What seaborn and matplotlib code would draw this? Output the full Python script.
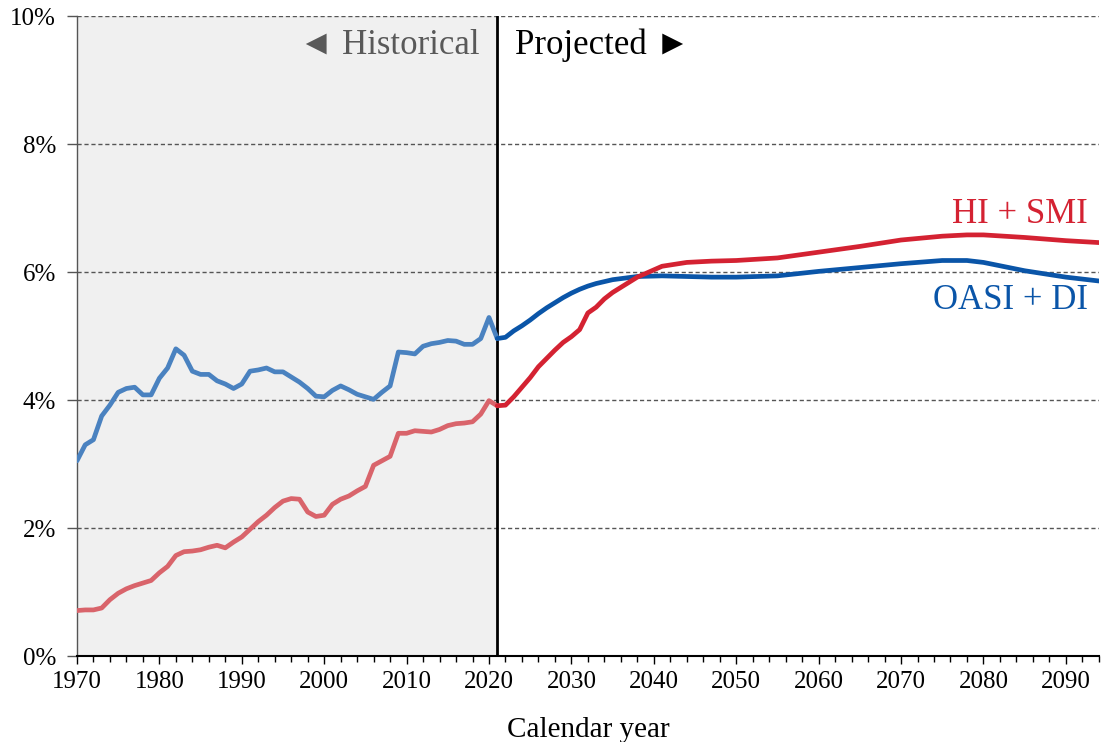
import numpy as np
import pandas as pd
import matplotlib
matplotlib.use('Agg')
import matplotlib.pyplot as plt
from matplotlib.ticker import MultipleLocator, FuncFormatter
import seaborn as sns

# Historical cost as percent of GDP (1970-2021)
hist_years = list(range(1970, 2022))
hist_oasdi = [3.05, 3.30, 3.38, 3.75, 3.92, 4.12, 4.18, 4.20, 4.08, 4.08,
              4.34, 4.50, 4.80, 4.70, 4.45, 4.40, 4.40, 4.30, 4.25, 4.18,
              4.25, 4.45, 4.47, 4.50, 4.44, 4.44, 4.36, 4.28, 4.18, 4.06,
              4.05, 4.15, 4.22, 4.16, 4.09, 4.05, 4.01, 4.12, 4.22, 4.75,
              4.74, 4.72, 4.84, 4.88, 4.90, 4.93, 4.92, 4.87, 4.87, 4.96,
              5.29, 4.96]
hist_hismi = [0.71, 0.72, 0.72, 0.75, 0.88, 0.98, 1.05, 1.10, 1.14, 1.18,
              1.30, 1.40, 1.57, 1.63, 1.64, 1.66, 1.70, 1.73, 1.69, 1.78,
              1.86, 1.98, 2.10, 2.20, 2.32, 2.42, 2.46, 2.45, 2.25, 2.18,
              2.20, 2.37, 2.45, 2.50, 2.58, 2.65, 2.98, 3.05, 3.12, 3.48,
              3.48, 3.52, 3.51, 3.50, 3.54, 3.60, 3.63, 3.64, 3.66, 3.78,
              3.99, 3.91]

# Projected cost as percent of GDP
proj_years = [2021, 2022, 2023, 2024, 2025, 2026, 2027, 2028, 2029, 2030,
              2031, 2032, 2033, 2034, 2035, 2038, 2041, 2044, 2047, 2050,
              2055, 2060, 2065, 2070, 2075, 2078, 2080, 2085, 2090, 2094]
proj_oasdi = [4.96, 4.98, 5.08, 5.16, 5.25, 5.35, 5.44, 5.52, 5.60, 5.67,
              5.73, 5.78, 5.82, 5.85, 5.88, 5.93, 5.94, 5.93, 5.92, 5.92,
              5.94, 6.01, 6.07, 6.13, 6.18, 6.18, 6.15, 6.02, 5.92, 5.86]
proj_hismi = [3.91, 3.92, 4.05, 4.20, 4.35, 4.52, 4.65, 4.78, 4.90, 4.99,
              5.10, 5.36, 5.45, 5.58, 5.68, 5.92, 6.09, 6.15, 6.17, 6.18,
              6.22, 6.31, 6.40, 6.50, 6.56, 6.58, 6.58, 6.54, 6.49, 6.46]

split_year = 2021
x_min, x_max = 1970, 2094

sns.set_theme(style="white")
plt.rcParams['font.family'] = ['Liberation Serif', 'DejaVu Serif']
plt.rcParams['text.color'] = 'black'
plt.rcParams['axes.labelcolor'] = 'black'
plt.rcParams['xtick.labelcolor'] = 'black'
plt.rcParams['ytick.labelcolor'] = 'black'

fig = plt.figure(figsize=(11.01, 7.42), dpi=100)
ax = fig.add_axes([0.0699, 0.1159, 0.9281, 0.8625])

# shaded historical period
ax.axvspan(x_min, split_year, color='#f0f0f0', zorder=0)

# grid lines
for yv in [2, 4, 6, 8, 10]:
    ax.axhline(yv, color='#555555', lw=1, ls=(0, (3, 2)), zorder=1)

ax.axvline(split_year, color='black', lw=2, zorder=3)

sns.lineplot(x=hist_years, y=hist_oasdi, color='#4a82c0', lw=3.4, ax=ax, zorder=4)
sns.lineplot(x=hist_years, y=hist_hismi, color='#d9646b', lw=3.4, ax=ax, zorder=4)
sns.lineplot(x=proj_years, y=proj_oasdi, color='#0a55a8', lw=3.4, ax=ax, zorder=4)
sns.lineplot(x=proj_years, y=proj_hismi, color='#d42232', lw=3.4, ax=ax, zorder=4)

ax.set_xlim(x_min, x_max)
ax.set_ylim(0, 10)

ax.xaxis.set_major_locator(MultipleLocator(10))
ax.xaxis.set_minor_locator(MultipleLocator(2))
ax.yaxis.set_major_locator(MultipleLocator(2))
ax.yaxis.set_major_formatter(FuncFormatter(lambda v, p: f"{v:.0f}%"))

ax.tick_params(axis='x', which='major', direction='out', length=6, width=1,
               color='black', labelsize=18, pad=5, bottom=True)
ax.tick_params(axis='x', which='minor', direction='out', length=4, width=1,
               color='black', bottom=True)
ax.tick_params(axis='y', which='major', direction='out', length=7, width=1,
               color='#555555', labelsize=18, pad=8, left=True)

for s in ['top', 'right']:
    ax.spines[s].set_visible(False)
ax.spines['left'].set_color('#555555')
ax.spines['left'].set_linewidth(1)
ax.spines['bottom'].set_color('black')
ax.spines['bottom'].set_linewidth(1.5)

ax.set_xlabel('Calendar year', fontsize=21, labelpad=17)
ax.set_ylabel('')

ax.text(2018.9, 9.55, '\u25c4 Historical', ha='right', va='center', fontsize=25, color='#595959')
ax.text(2023.2, 9.55, 'Projected \u25ba', ha='left', va='center', fontsize=25, color='black')

ax.text(2092.7, 6.9, 'HI + SMI', ha='right', va='center', fontsize=25, color='#d42232')
ax.text(2092.7, 5.56, 'OASI + DI', ha='right', va='center', fontsize=25, color='#0a55a8')

fig.savefig('out.png', dpi=100)
